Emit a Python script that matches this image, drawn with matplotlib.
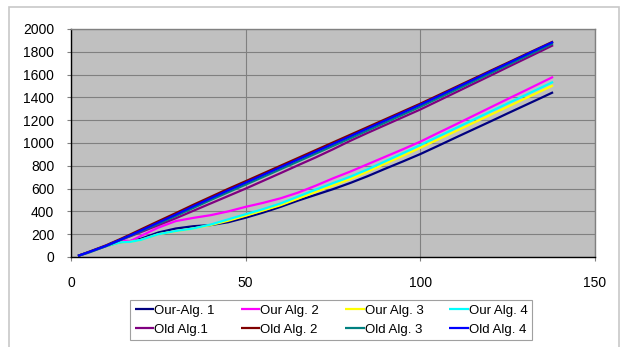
import matplotlib
matplotlib.use("Agg")
import matplotlib.pyplot as plt
from matplotlib.patches import Rectangle

plt.rcParams['font.family'] = ['Liberation Sans', 'DejaVu Sans']

# sample positions shared by every series
x = [2, 5, 10, 14, 17, 20, 25, 30, 35, 40, 45, 50, 55, 60, 65, 70, 75,
     80, 85, 90, 95, 100, 105, 110, 115, 120, 125, 130, 135, 138]

our_alg1 = [10, 38, 95, 130, 140, 160, 215, 250, 270, 280, 305, 345, 390,
            440, 495, 545, 595, 650, 710, 775, 838, 903, 974, 1046, 1117,
            1188, 1260, 1331, 1402, 1445]
our_alg2 = [10, 40, 98, 148, 140, 185, 258, 315, 343, 367, 400, 440, 475,
            515, 565, 625, 690, 750, 815, 880, 945, 1012, 1087, 1161, 1236,
            1311, 1386, 1460, 1535, 1580]
our_alg3 = [10, 38, 95, 128, 133, 150, 200, 226, 250, 280, 318, 362, 408,
            455, 512, 570, 628, 685, 750, 820, 888, 958, 1030, 1102, 1174,
            1246, 1318, 1390, 1462, 1505]
our_alg4 = [10, 38, 95, 128, 133, 150, 200, 228, 250, 285, 330, 375, 420,
            470, 530, 590, 648, 705, 770, 840, 910, 982, 1055, 1128, 1201,
            1274, 1347, 1419, 1492, 1536]
old_alg1 = [10, 40, 96, 148, 182, 218, 280, 340, 405, 470, 535, 600, 668,
            736, 805, 873, 945, 1020, 1090, 1158, 1226, 1294, 1368, 1442,
            1516, 1590, 1665, 1739, 1813, 1858]
old_alg2 = [10, 44, 102, 156, 198, 242, 314, 385, 458, 528, 598, 665, 733,
            801, 869, 937, 1005, 1073, 1141, 1209, 1277, 1345, 1417, 1489,
            1561, 1633, 1704, 1776, 1847, 1890]
old_alg3 = [10, 41, 96, 148, 186, 226, 292, 360, 430, 500, 568, 635, 702,
            770, 838, 906, 974, 1042, 1111, 1180, 1249, 1318, 1391, 1464,
            1537, 1610, 1684, 1757, 1830, 1874]
old_alg4 = [10, 42, 98, 150, 190, 232, 302, 372, 445, 515, 585, 652, 720,
            788, 856, 924, 992, 1060, 1129, 1198, 1267, 1336, 1408, 1481,
            1553, 1626, 1698, 1771, 1843, 1886]

series = [
    ("Our-Alg. 1", our_alg1, "#000080"),
    ("Our Alg. 2", our_alg2, "#ff00ff"),
    ("Our Alg. 3", our_alg3, "#ffff00"),
    ("Our Alg. 4", our_alg4, "#00ffff"),
    ("Old Alg.1", old_alg1, "#800080"),
    ("Old Alg. 2", old_alg2, "#800000"),
    ("Old Alg. 3", old_alg3, "#008080"),
    ("Old Alg. 4", old_alg4, "#0000ff"),
]

fig = plt.figure(figsize=(6.24, 3.47), dpi=100)
ax = fig.add_axes([71 / 624, 1 - 257 / 347, 524 / 624, 228 / 347])
ax.set_facecolor("#c0c0c0")

lines = {}
for name, vals, col in series:
    ln, = ax.plot(x, vals, color=col, lw=1.6, label=name,
                  solid_joinstyle="round", solid_capstyle="butt")
    lines[name] = ln

ax.set_xlim(0, 150)
ax.set_ylim(0, 2000)
ax.set_xticks([0, 50, 100, 150])
ax.set_yticks(range(0, 2001, 200))
ax.grid(True, color="#808080", lw=0.8)
ax.set_axisbelow(True)

for s in ("top", "right"):
    ax.spines[s].set_color("#808080")
    ax.spines[s].set_linewidth(1.0)
for s in ("left", "bottom"):
    ax.spines[s].set_color("black")
    ax.spines[s].set_linewidth(1.0)
ax.tick_params(axis="y", length=3, width=0.8, pad=9, labelsize=10, color="#808080")
ax.tick_params(axis="x", length=3, width=0.8, pad=11, labelsize=10, color="#808080")

# two rows: our algorithms on top, old ones below
order = ["Our-Alg. 1", "Old Alg.1", "Our Alg. 2", "Old Alg. 2",
         "Our Alg. 3", "Old Alg. 3", "Our Alg. 4", "Old Alg. 4"]
leg = fig.legend([lines[k] for k in order], order, ncol=4,
                 loc="upper left", bbox_to_anchor=(130 / 624, 1 - 300 / 347),
                 fontsize=9.5, frameon=True, fancybox=False, framealpha=1,
                 edgecolor="#a0a0a0", handlelength=1.5, handletextpad=0.0,
                 columnspacing=1.95, borderpad=0.35, labelspacing=0.5,
                 borderaxespad=0)
leg.get_frame().set_linewidth(0.8)

# chart border
fig.patches.append(Rectangle((9 / 624, -0.1), 610 / 624, 1.1 - 7 / 347,
                             transform=fig.transFigure, fill=False,
                             edgecolor="#c8c8c8", lw=1.2))

fig.savefig("out.png", dpi=100)
